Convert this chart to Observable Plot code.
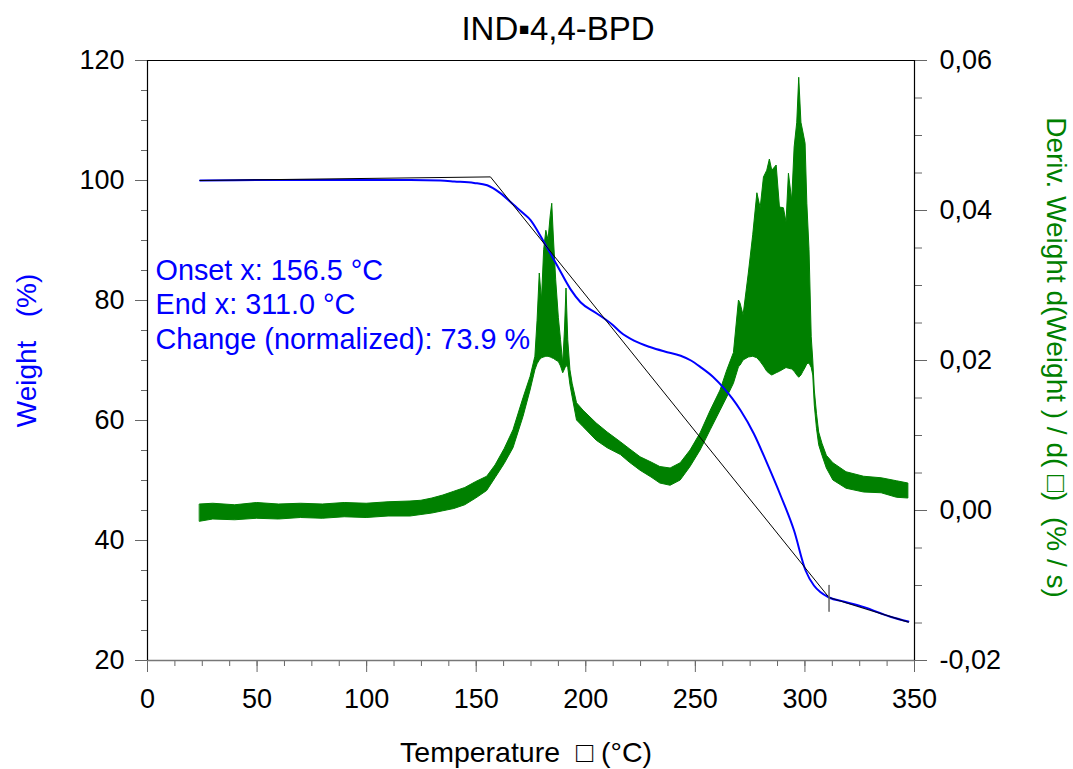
<!DOCTYPE html>
<html><head><meta charset="utf-8">
<script src="https://cdn.jsdelivr.net/npm/d3@7"></script>
<script src="https://cdn.jsdelivr.net/npm/@observablehq/plot@0.6"></script>
<style>body{margin:0;background:#fff}</style>
</head><body><div id="chart"></div>
<script>
const title = "IND\u25AA4,4-BPD";
const xLabel = "Temperature\u00A0\u00A0\u25A1\u00A0(°C)";
const yLeftLabel = "Weight\u00A0\u00A0\u00A0(%)";
const yRightLabel = "Deriv. Weight d(Weight ) / d(\u00A0\u25A1)\u00A0\u00A0(% / s)";
const annotation = ["Onset x: 156.5 °C", "End x: 311.0 °C", "Change (normalized): 73.9 %"];

const xDomain = [0, 350];
const yLeftDomain = [20, 120];
const yRightDomain = [-0.02, 0.06];
const xTicks = [0, 50, 100, 150, 200, 250, 300, 350];
const xMinorTicks = [0,12.5,25,37.5,50,62.5,75,87.5,100,112.5,125,137.5,150,162.5,175,187.5,200,212.5,225,237.5,250,262.5,275,287.5,300,312.5,325,337.5,350];
const yLeftTicks = [20, 40, 60, 80, 100, 120];
const yLeftMinorTicks = [20,25,30,35,40,45,50,55,60,65,70,75,80,85,90,95,100,105,110,115,120];
const yRightTicks = [-0.02, 0, 0.02, 0.04, 0.06];
const yRightTickLabels = ["-0,02", "0,00", "0,02", "0,04", "0,06"];
const yRightMinorTicks = [-0.02,-0.015,-0.01,-0.005,0,0.005,0.01,0.015,0.02,0.025,0.03,0.035,0.04,0.045,0.05,0.055,0.06];

// Weight (%) vs temperature (°C)
const weightT   = [24,40,60,80,100,120,133.7,140,149,155,161,167.2,171.6,174.8,179.4,181.6,187,193,197.6,205.2,212.7,215.9,222,229.6,236,243.3,248,252.4,258,263,267,270.6,276.7,282.8,288.9,295,300.3,304.1,307,311,318,327,339,347.2];
const weightPct = [100.0,100.05,100.1,100.1,100.1,100.1,100.0,99.85,99.6,99.2,97.9,95.9,94.5,93.4,90.7,89.3,85.8,81.9,79.7,77.8,75.8,74.7,73.3,72.2,71.5,70.8,70.0,68.9,67.3,65.4,63.6,61.7,57.8,52.8,47.5,41.7,35.0,32.5,31.4,30.5,29.8,28.9,27.3,26.5];

// Derivative weight (%/s): noisy band, low and high envelope
const derivT    = [24,30,40,50,60,70,80,90,100,110,120,125,130,135,140,145,150,155,158.8,163,167,171.6,174.8,177,178,179,180,181,182,183,184,184.7,185.5,186.5,187.7,188.7,189.7,190.5,191.2,192,193,194,196,199,205,210,216,220,225,230,234,238.7,243.3,247.8,252.4,257,261.5,264.6,267.6,269.9,270.6,272,274.4,276.4,278.3,279.8,281.3,282.8,284,285.1,287.1,288.6,290.4,291.6,292.7,294.2,295.3,296.5,297.4,298.4,299.3,300.3,301.1,302.1,303.1,303.8,304.5,305.5,306.5,308,310,313,319,327,335,342,347.2];
const derivLow  = [-0.0015,-0.0012,-0.0013,-0.0011,-0.0012,-0.0010,-0.0011,-0.0009,-0.0010,-0.0008,-0.0008,-0.0006,-0.0004,-0.0001,0.0002,0.0007,0.0016,0.0026,0.0043,0.0062,0.0083,0.0125,0.0160,0.0187,0.0195,0.0200,0.0203,0.0204,0.0205,0.0205,0.0204,0.0203,0.0202,0.0200,0.0198,0.0192,0.0183,0.0188,0.0193,0.0190,0.0167,0.0151,0.0120,0.0111,0.0093,0.0083,0.0074,0.0064,0.0053,0.0044,0.0036,0.0033,0.0040,0.0058,0.0080,0.0107,0.0133,0.0151,0.0169,0.0191,0.0193,0.0200,0.0204,0.0205,0.0203,0.0198,0.0192,0.0185,0.0182,0.0180,0.0183,0.0185,0.0188,0.0190,0.0189,0.0188,0.0185,0.0180,0.0177,0.0180,0.0185,0.0190,0.0195,0.0196,0.0190,0.0180,0.0140,0.0109,0.0087,0.0073,0.0056,0.0040,0.0029,0.0024,0.0023,0.0017,0.0016];
const derivHigh = [0.0008,0.0009,0.0007,0.0010,0.0008,0.0009,0.0008,0.0010,0.0009,0.0011,0.0012,0.0013,0.0016,0.0020,0.0025,0.0030,0.0038,0.0045,0.0060,0.0082,0.0107,0.0150,0.0178,0.0205,0.0253,0.0316,0.0280,0.0347,0.0373,0.0360,0.0393,0.0409,0.0360,0.0307,0.0257,0.0227,0.0195,0.0240,0.0296,0.0227,0.0187,0.0169,0.0143,0.0133,0.0116,0.0104,0.0091,0.0082,0.0071,0.0064,0.0058,0.0056,0.0063,0.0080,0.0103,0.0133,0.0160,0.0187,0.0210,0.0280,0.0276,0.0260,0.0316,0.0367,0.0423,0.0403,0.0444,0.0453,0.0468,0.0453,0.0460,0.0404,0.0403,0.0384,0.0449,0.0413,0.0484,0.0517,0.0577,0.0517,0.0504,0.0489,0.0409,0.0347,0.0231,0.0200,0.0160,0.0129,0.0104,0.0089,0.0073,0.0063,0.0051,0.0045,0.0043,0.0039,0.0036];

// Onset / end construction lines
const onsetLineT = [24, 156.5, 311];
const onsetLineW = [100.0, 100.6, 30.5];
const endTailT = [311, 347.2];
const endTailW = [30.5, 26.4];
const endMarkT = [311, 311];
const endMarkW = [32.5, 28.2];

const toLeft = d => yLeftDomain[0] + (d - yRightDomain[0]) / (yRightDomain[1] - yRightDomain[0]) * (yLeftDomain[1] - yLeftDomain[0]);

const weight = weightT.map((t, i) => ({t, w: weightPct[i]}));
const deriv = derivT.map((t, i) => ({t, lo: toLeft(derivLow[i]), hi: toLeft(derivHigh[i])}));
const onsetLine = onsetLineT.map((t, i) => ({t, w: onsetLineW[i]}));
const endTail = endTailT.map((t, i) => ({t, w: endTailW[i]}));
const endMark = endMarkT.map((t, i) => ({t, w: endMarkW[i]}));
const rightMajorLeft = yRightTicks.map(toLeft);
const rightMinorLeft = yRightMinorTicks.map(toLeft);

const font = "'Liberation Sans', Arial, sans-serif";
const FS = 27;

const chart = Plot.plot({
  width: 1073, height: 769,
  marginLeft: 147, marginRight: 159, marginTop: 60, marginBottom: 109,
  x: {domain: xDomain},
  y: {domain: yLeftDomain},
  style: {fontFamily: font, background: "white", color: "black"},
  marks: [
    // minor ticks
    Plot.axisX({ticks: xMinorTicks, tickSize: 6, tickFormat: () => "", label: null, stroke: "#666"}),
    Plot.axisY({anchor: "left", ticks: yLeftMinorTicks, tickSize: 6, tickFormat: () => "", label: null, stroke: "#666"}),
    Plot.axisY({anchor: "right", ticks: rightMinorLeft, tickSize: 7, tickFormat: () => "", label: null, stroke: "#666"}),
    // major ticks
    Plot.axisX({ticks: xTicks, tickSize: 12, tickPadding: 16, label: null, fontSize: FS, stroke: "#666", fill: "black"}),
    Plot.axisY({anchor: "left", ticks: yLeftTicks, tickSize: 12, tickPadding: 11, label: null, fontSize: FS, stroke: "#666", fill: "black"}),
    Plot.axisY({anchor: "right", ticks: rightMajorLeft, tickSize: 12, tickPadding: 13, label: null, fontSize: FS, stroke: "#666", fill: "black",
      tickFormat: d => yRightTickLabels[rightMajorLeft.findIndex(v => Math.abs(v - d) < 1e-6)]}),
    // frame
    Plot.ruleY([yLeftDomain[0]], {stroke: "#777", strokeWidth: 1.5}),
    Plot.ruleY([yLeftDomain[1]], {stroke: "black", strokeWidth: 1.2}),
    Plot.ruleX([xDomain[0]], {stroke: "black", strokeWidth: 1.2}),
    Plot.ruleX([xDomain[1]], {stroke: "black", strokeWidth: 1.2}),
    // derivative band
    Plot.areaY(deriv, {x: "t", y1: "lo", y2: "hi", fill: "#008000", stroke: "#008000", strokeWidth: 1}),
    // weight curve
    Plot.line(weight, {x: "t", y: "w", stroke: "#0000ff", strokeWidth: 2, curve: "monotone-x"}),
    // construction lines
    Plot.line(onsetLine, {x: "t", y: "w", stroke: "black", strokeWidth: 1}),
    Plot.line(endTail, {x: "t", y: "w", stroke: "#000033", strokeWidth: 1.3}),
    Plot.line(endMark, {x: "t", y: "w", stroke: "#666", strokeWidth: 1.5}),
    // annotation
    ...annotation.map((s, i) => Plot.text([s], {frameAnchor: "top-left", dx: 8, dy: 219 + i * 34.5, lineAnchor: "bottom", textAnchor: "start", fill: "#0000ff", fontSize: 28.8})),
    // title & axis labels
    Plot.text([title], {frameAnchor: "top", dx: 27, dy: -21, lineAnchor: "bottom", textAnchor: "middle", fontSize: 33, fill: "black"}),
    Plot.text([xLabel], {frameAnchor: "bottom", dx: -5, dy: 101, lineAnchor: "bottom", textAnchor: "middle", fontSize: 28.5, fill: "black"}),
    Plot.text([yLeftLabel], {frameAnchor: "left", dx: -120, dy: -10, rotate: -90, lineAnchor: "middle", textAnchor: "middle", fontSize: 28, fill: "#0000ff"}),
    Plot.text([yRightLabel], {frameAnchor: "right", dx: 141, dy: -3, rotate: 90, lineAnchor: "middle", textAnchor: "middle", fontSize: 28, fill: "#008000"})
  ]
});
document.getElementById("chart").appendChild(chart);
</script>
</body></html>
